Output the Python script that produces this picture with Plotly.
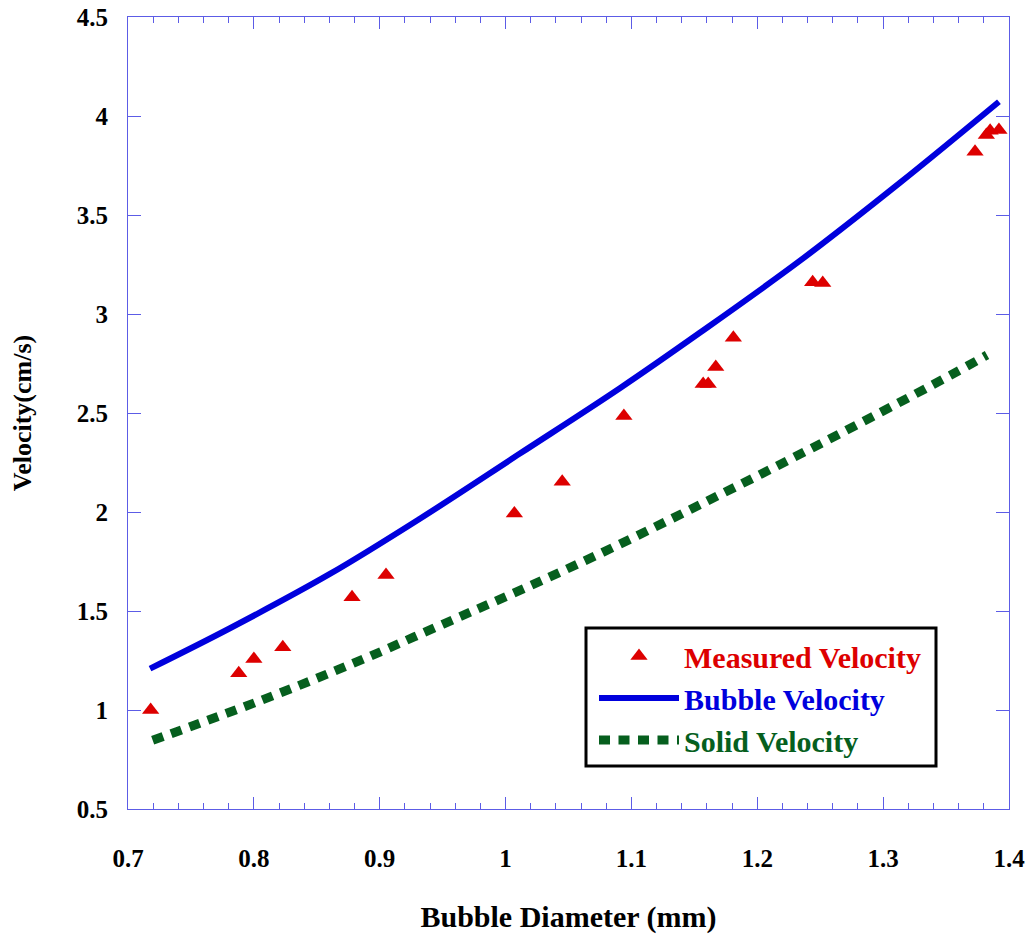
import plotly.graph_objects as go

# Measured velocity (triangles)
meas_d = [0.718, 0.788, 0.800, 0.823, 0.878, 0.905, 1.007, 1.045, 1.094, 1.157, 1.161,
          1.167, 1.181, 1.244, 1.252, 1.373, 1.382, 1.385, 1.392]
meas_v = [1.000, 1.185, 1.258, 1.317, 1.569, 1.682, 1.993, 2.153, 2.485, 2.646, 2.646,
          2.732, 2.880, 3.160, 3.157, 3.820, 3.904, 3.926, 3.929]

# Bubble velocity (solid blue curve)
bub_d = [0.7175, 0.781, 0.8604, 0.9319, 1.0114, 1.0908, 1.1543, 1.2337, 1.3132, 1.392]
bub_v = [1.209, 1.413, 1.687, 1.966, 2.295, 2.625, 2.905, 3.268, 3.662, 4.072]

# Solid velocity (dotted green curve)
sol_d = [0.7196, 0.8009, 0.8821, 0.950, 1.018, 1.086, 1.1535, 1.2208, 1.288, 1.3553, 1.3825]
sol_v = [0.847, 1.037, 1.244, 1.433, 1.623, 1.823, 2.034, 2.249, 2.470, 2.697, 2.793]

RED = "#dd0000"
BLUE = "#0000dd"
GREEN = "#065f1e"
AXIS = "#5c5ce6"
FONT = "Liberation Serif, Times New Roman, serif"

# plot area spans x 128..1009, y 17..809 on screen (body margin removed below)
W, H = 1034, 934
ML, MR, MT, MB = 128, 25, 17, 125
PW, PH = W - ML - MR, H - MT - MB


def px(xs):
    return (xs - ML) / PW


def py(ys):
    return 1 - (ys - MT) / PH


fig = go.Figure()
fig.add_trace(go.Scatter(
    x=meas_d, y=meas_v, mode="markers",
    name=f"<span style='color:{RED}'>Measured Velocity</span>",
    marker=dict(symbol="triangle-up", size=15, color=RED),
))
fig.add_trace(go.Scatter(
    x=bub_d, y=bub_v, mode="lines", line_shape="spline",
    name=f"<span style='color:{BLUE}'>Bubble Velocity</span>",
    line=dict(color=BLUE, width=6),
))
fig.add_trace(go.Scatter(
    x=sol_d, y=sol_v, mode="lines", line_shape="spline",
    name=f"<span style='color:{GREEN}'>Solid Velocity</span>",
    line=dict(color=GREEN, width=9, dash="11px,8.5px"),
))

# legend frame
fig.add_shape(type="rect", xref="paper", yref="paper",
              x0=px(586), x1=px(936), y0=py(766), y1=py(628),
              line=dict(color="black", width=3), fillcolor="white", layer="above")

fig.update_layout(
    width=W, height=H,
    margin=dict(l=ML, r=MR, t=MT, b=MB),
    paper_bgcolor="white", plot_bgcolor="white",
    font=dict(family=FONT, color="black", size=25, weight="bold"),
    showlegend=True,
    legend=dict(
        x=px(594), y=py(630), xanchor="left", yanchor="top",
        bgcolor="rgba(0,0,0,0)", borderwidth=0,
        font=dict(family=FONT, size=30, weight="bold"),
        itemwidth=80, tracegroupgap=0,
    ),
)
fig.update_xaxes(
    range=[0.7, 1.4], dtick=0.1, tick0=0.7, automargin=False,
    showline=True, linecolor=AXIS, linewidth=1, mirror="ticks",
    ticks="inside", ticklen=12, tickcolor=AXIS, tickwidth=1,
    minor=dict(dtick=0.02, tick0=0.7, ticks="inside", ticklen=6, tickcolor=AXIS, tickwidth=1),
    showgrid=False, zeroline=False,
    tickfont=dict(family=FONT, size=25, weight="bold"),
    ticklabelstandoff=27,
    title=dict(text="Bubble Diameter (mm)", font=dict(family=FONT, size=30, weight="bold"), standoff=45),
)
fig.update_yaxes(
    range=[0.5, 4.5], dtick=0.5, tick0=0.5, automargin=False,
    showline=True, linecolor=AXIS, linewidth=1, mirror="ticks",
    ticks="inside", ticklen=13, tickcolor=AXIS, tickwidth=1,
    showgrid=False, zeroline=False,
    tickfont=dict(family=FONT, size=25, weight="bold"),
    ticklabelstandoff=14,
    title=dict(text="Velocity(cm/s)", font=dict(family=FONT, size=26, weight="bold"), standoff=37),
)

fig.write_html("out.html", config={"displayModeBar": False},
               post_script="document.body.style.margin='0';")
